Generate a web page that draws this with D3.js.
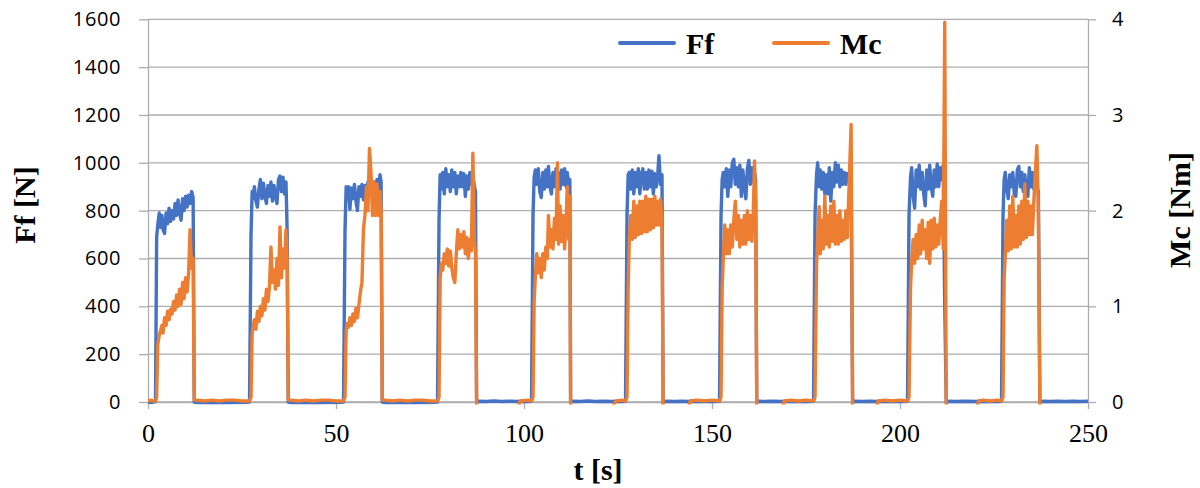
<!DOCTYPE html>
<html><head><meta charset="utf-8">
<script src="https://cdn.jsdelivr.net/npm/d3@7"></script>
<style>html,body{margin:0;padding:0;background:#fff;}svg{display:block;}</style>
</head><body>
<svg id="chart" width="1200" height="488"></svg>
<script>
// ---------- data ----------
const seriesNames = ["Ff", "Mc"];
const tTicks = [0, 50, 100, 150, 200, 250];
const ffTicks = [0, 200, 400, 600, 800, 1000, 1200, 1400, 1600];
const mcTicks = [0, 1, 2, 3, 4];

const tSec = [
  0,0.7,1.4,2.0,
  2.3,2.6,3.0,3.3,3.7,4.0,4.4,4.8,5.2,5.6,6.0,6.4,6.8,7.2,7.6,8.0,8.4,8.8,9.2,9.6,10.0,10.4,10.8,11.2,11.6,12.0,12.3,
  13,15,17,19,21,23,25,27.0,
  27.4,27.7,28.0,28.3,28.7,29.1,29.5,29.9,30.3,30.7,31.1,31.5,31.9,32.3,32.7,33.1,33.5,33.9,34.3,34.7,35.1,35.5,35.9,36.3,36.7,37.0,37.3,
  38,40,42,44,46,48,50,52.0,
  52.4,52.7,53.0,53.3,53.7,54.1,54.5,54.9,55.3,55.7,56.1,56.5,56.9,57.3,57.7,58.1,58.5,58.9,59.3,59.7,60.1,60.5,60.9,61.3,61.7,62.0,62.3,
  63,65,67,69,71,73,75,77.0,
  77.4,77.7,78.0,78.4,78.8,79.2,79.6,80.0,80.4,80.8,81.2,81.6,82.0,82.4,82.8,83.2,83.6,84.0,84.4,84.8,85.2,85.6,86.0,86.4,86.8,87.1,87.4,
  88,90,92,94,96,98.5,99,101,102.0,
  102.4,102.7,103.0,103.4,103.8,104.2,104.6,105.0,105.4,105.8,106.2,106.5,106.9,107.3,107.7,108.1,108.5,108.9,109.2,109.6,110.0,110.4,110.8,111.2,111.5,111.9,112.2,112.4,
  113,115,117,119,121,123.5,124.5,126,127.0,
  127.4,127.7,128.0,128.4,128.8,129.2,129.6,130.0,130.4,130.8,131.2,131.6,132.0,132.4,132.8,133.2,133.6,134.0,134.4,134.8,135.2,135.6,135.9,136.3,136.7,137.0,
  138,140,142,143.8,144.2,146,148,150,152.0,
  152.4,152.7,153.0,153.4,153.8,154.2,154.6,155.0,155.4,155.8,156.2,156.6,157.0,157.4,157.8,158.2,158.6,159.0,159.4,159.8,160.2,160.6,161.0,161.3,161.6,161.9,
  162.5,164,166,168.8,169.2,171,173,175,177.0,
  177.4,177.8,178.1,178.5,178.8,179.2,179.6,180.0,180.4,180.8,181.2,181.6,182.0,182.4,182.8,183.2,183.6,184.0,184.4,184.8,185.2,185.6,186.0,186.5,187.0,187.4,
  188,190,192,193.8,194.2,196,198,200,202.0,
  202.4,202.8,203.1,203.5,203.9,204.3,204.7,205.1,205.5,205.9,206.3,206.7,207.1,207.5,207.9,208.3,208.7,209.1,209.5,209.9,210.3,210.7,211.1,211.5,211.9,212.3,
  213,215,217,220.5,220.9,222,224,226,227.0,
  227.4,227.7,228.0,228.4,228.8,229.2,229.6,230.0,230.4,230.8,231.2,231.6,232.0,232.4,232.8,233.2,233.6,234.0,234.4,234.8,235.2,235.6,236.0,236.4,236.8,237.2,
  238,240,242,244,246,248,250
];

const ffN = [
  0,-2,0,2,
  690,740,790,730,780,720,705,790,745,810,755,800,765,830,780,845,790,760,850,800,860,815,865,830,880,855,0,
  -3,-2,-3,-2,-3,-2,-2,0,
  700,880,850,900,840,815,890,930,850,915,860,830,905,860,920,840,905,860,830,930,945,880,940,870,920,720,0,
  -3,-2,-3,-2,-3,-2,-2,0,
  720,900,860,900,805,895,850,910,840,800,900,860,910,845,905,860,920,870,930,860,920,870,930,890,950,920,0,
  -3,-2,-3,-2,-3,-2,-2,0,
  760,950,890,960,870,975,900,950,880,970,900,960,870,945,900,960,900,955,860,945,890,960,910,950,900,880,0,
  3,2,4,2,3,2,3,2,3,
  780,940,970,910,975,880,855,960,890,970,900,985,900,870,960,900,975,910,960,890,970,910,975,900,960,910,930,0,
  3,2,4,2,3,2,3,2,3,
  780,950,960,890,970,870,960,900,975,870,950,975,890,960,890,970,900,965,870,955,900,960,1030,910,950,0,
  3,2,3,2,3,2,3,2,3,
  780,930,960,900,975,860,970,900,1000,1015,910,980,900,990,860,970,900,850,975,1010,910,980,920,960,930,0,
  3,2,3,2,3,2,3,2,3,
  780,950,1000,900,970,890,960,870,950,870,980,840,960,900,1000,920,990,900,970,910,960,910,955,920,900,0,
  3,2,3,2,3,2,3,2,3,
  780,940,980,860,810,970,900,990,890,960,870,820,970,890,990,900,860,970,900,995,900,980,930,990,400,0,
  3,2,3,2,3,2,3,2,3,
  780,930,960,890,850,950,900,960,870,860,970,985,900,960,880,950,880,860,980,900,960,890,960,900,880,0,
  3,2,3,2,3,2,3
];

const mcNm = [
  0.01,0.02,0.01,0.01,
  0.05,0.60,0.70,0.74,0.80,0.72,0.88,0.80,0.95,0.86,0.97,0.92,1.05,0.96,1.12,1.00,1.18,1.02,1.25,1.08,1.30,1.15,1.35,1.80,1.40,1.50,0.02,
  0.02,0.01,0.02,0.01,0.02,0.02,0.01,0.01,
  0.05,0.72,0.80,0.86,0.76,0.95,0.84,1.00,0.90,1.08,0.96,1.18,1.05,1.20,1.62,1.25,1.38,1.18,1.50,1.22,1.83,1.30,1.60,1.40,1.80,1.50,0.02,
  0.02,0.01,0.02,0.01,0.02,0.02,0.01,0.01,
  0.05,0.75,0.82,0.78,0.88,0.80,0.92,0.84,0.98,0.88,1.02,1.15,1.25,1.80,1.95,2.25,2.00,2.65,2.40,1.95,2.30,1.95,2.28,1.95,2.20,2.00,0.02,
  0.02,0.01,0.02,0.01,0.02,0.02,0.01,0.01,
  0.05,1.30,1.45,1.38,1.55,1.45,1.60,1.42,1.58,1.40,1.30,1.25,1.55,1.80,1.60,1.75,1.62,1.78,1.55,1.72,1.50,1.70,1.58,2.60,1.70,1.55,-0.05,
  -0.05,-0.05,-0.05,-0.05,-0.05,-0.05,0.01,0.02,0.01,
  0.05,1.05,1.30,1.55,1.35,1.50,1.30,1.55,1.38,1.62,1.50,1.95,1.62,1.80,1.60,1.92,1.70,2.50,1.65,2.05,1.68,1.95,1.60,1.90,2.25,1.70,2.15,-0.05,
  -0.05,-0.05,-0.05,-0.05,-0.05,-0.05,0.01,0.02,0.01,
  0.05,1.20,1.70,1.95,1.70,2.10,1.72,2.05,1.75,2.10,1.76,2.10,1.78,2.15,1.78,2.12,1.80,2.12,1.82,2.15,1.85,2.10,1.85,2.12,1.90,-0.05,
  -0.05,-0.05,-0.05,-0.05,0.01,0.02,0.01,0.02,0.01,
  0.05,1.20,1.50,1.85,1.55,1.80,1.55,1.85,1.62,1.90,2.10,1.70,1.95,1.62,1.90,1.65,1.95,1.65,2.00,1.70,1.95,1.68,2.00,2.52,2.10,-0.05,
  -0.05,-0.05,-0.05,-0.05,0.01,0.02,0.01,0.02,0.01,
  0.05,1.42,1.70,2.04,1.55,1.90,1.60,2.15,1.65,1.95,1.62,2.05,1.68,2.10,1.65,1.95,1.65,2.00,1.68,1.90,1.70,2.00,1.72,2.30,2.90,-0.05,
  -0.05,-0.05,-0.05,-0.05,0.01,0.02,0.01,0.02,0.01,
  0.05,1.20,1.45,1.70,1.45,1.75,1.50,1.85,1.55,1.90,1.60,1.80,1.50,1.88,1.45,1.90,1.60,1.92,1.62,1.85,1.65,1.90,2.10,1.60,3.97,-0.05,
  -0.05,-0.05,-0.05,-0.05,0.01,0.02,0.01,0.02,0.01,
  0.05,1.30,1.52,1.90,1.58,2.05,1.60,2.15,1.62,1.95,1.62,2.05,1.65,2.10,1.70,2.28,1.72,2.10,1.75,2.05,1.75,2.10,2.40,2.68,2.00,-0.05,
  -0.05,-0.05,-0.05,-0.05,-0.05,-0.05,-0.05
];

// ---------- layout ----------
const colors = { Ff: "#4472C4", Mc: "#ED7D31" };
const gridColor = "#ADADAD";
const plot = { left: 148, right: 1088, top: 19.3, bottom: 402 };

const svg = d3.select("#chart");
svg.append("rect").attr("width", 1200).attr("height", 488).attr("fill", "#fff");

const x = d3.scaleLinear().domain([0, 250]).range([plot.left, plot.right]);
const yL = d3.scaleLinear().domain([0, 1600]).range([plot.bottom, plot.top]);
const yR = d3.scaleLinear().domain([0, 4]).range([plot.bottom, plot.top]);

// grid
svg.append("g").selectAll("line").data(ffTicks).join("line")
  .attr("x1", plot.left).attr("x2", plot.right)
  .attr("y1", d => yL(d)).attr("y2", d => yL(d))
  .attr("stroke", gridColor).attr("stroke-width", 1.3);

const sansFont = "'Open Sans', 'Noto Sans', sans-serif";
const serifFont = "'Liberation Serif', 'Times New Roman', serif";
const intFmt = d3.format("d");

function styleAxis(g) {
  g.select(".domain").attr("stroke", gridColor).attr("stroke-width", 1.3);
  g.selectAll(".tick line").attr("stroke", gridColor).attr("stroke-width", 1.3);
  g.selectAll(".tick text").attr("fill", "#000");
}

const gL = svg.append("g").attr("transform", `translate(${plot.left},0)`)
  .call(d3.axisLeft(yL).tickValues(ffTicks).tickFormat(intFmt).tickSizeInner(9).tickSizeOuter(0).tickPadding(18));
styleAxis(gL);
gL.selectAll(".tick text").style("font-family", sansFont).style("font-size", "20px").style("letter-spacing", "0.6px");

const gR = svg.append("g").attr("transform", `translate(${plot.right},0)`)
  .call(d3.axisRight(yR).tickValues(mcTicks).tickFormat(intFmt).tickSizeInner(8).tickSizeOuter(0).tickPadding(16));
styleAxis(gR);
gR.selectAll(".tick text").style("font-family", sansFont).style("font-size", "20px");

const gB = svg.append("g").attr("transform", `translate(0,${plot.bottom})`)
  .call(d3.axisBottom(x).tickValues(tTicks).tickFormat(intFmt).tickSizeInner(7).tickSizeOuter(0).tickPadding(10));
styleAxis(gB);
gB.selectAll(".tick text").attr("y", 40).attr("dy", null)
  .style("font-family", serifFont).style("font-size", "26px");

// clip
svg.append("clipPath").attr("id", "clip").append("rect")
  .attr("x", plot.left).attr("y", 0).attr("width", plot.right - plot.left + 2).attr("height", plot.bottom + 2.5);

const idx = d3.range(Math.min(tSec.length, ffN.length, mcNm.length));
const lineFf = d3.line().x(i => x(tSec[i])).y(i => yL(ffN[i]));
const lineMc = d3.line().x(i => x(tSec[i])).y(i => yR(mcNm[i]));

const gLines = svg.append("g").attr("clip-path", "url(#clip)");
gLines.append("path").attr("d", lineFf(idx)).attr("fill", "none")
  .attr("stroke", colors.Ff).attr("stroke-width", 3.4).attr("stroke-linejoin", "round");
gLines.append("path").attr("d", lineMc(idx)).attr("fill", "none")
  .attr("stroke", colors.Mc).attr("stroke-width", 3.4).attr("stroke-linejoin", "round");

// axis titles
svg.append("text").attr("transform", "translate(35,205) rotate(-90)")
  .attr("text-anchor", "middle").style("font-family", serifFont).style("font-weight", "bold")
  .style("font-size", "30px").text("Ff [N]");
svg.append("text").attr("transform", "translate(1190,210) rotate(-90)")
  .attr("text-anchor", "middle").style("font-family", serifFont).style("font-weight", "bold")
  .style("font-size", "30px").text("Mc [Nm]");
svg.append("text").attr("x", 598).attr("y", 480)
  .attr("text-anchor", "middle").style("font-family", serifFont).style("font-weight", "bold")
  .style("font-size", "30px").text("t [s]");

// legend
const legendItems = [
  { name: seriesNames[0], x1: 620, x2: 674, tx: 686 },
  { name: seriesNames[1], x1: 774, x2: 828, tx: 840 }
];
const lg = svg.append("g");
legendItems.forEach(it => {
  lg.append("line").attr("x1", it.x1).attr("x2", it.x2).attr("y1", 43).attr("y2", 43)
    .attr("stroke", colors[it.name]).attr("stroke-width", 4).attr("stroke-linecap", "round");
  lg.append("text").attr("x", it.tx).attr("y", 54)
    .style("font-family", serifFont).style("font-weight", "bold").style("font-size", "30px")
    .text(it.name);
});
</script>
</body></html>
